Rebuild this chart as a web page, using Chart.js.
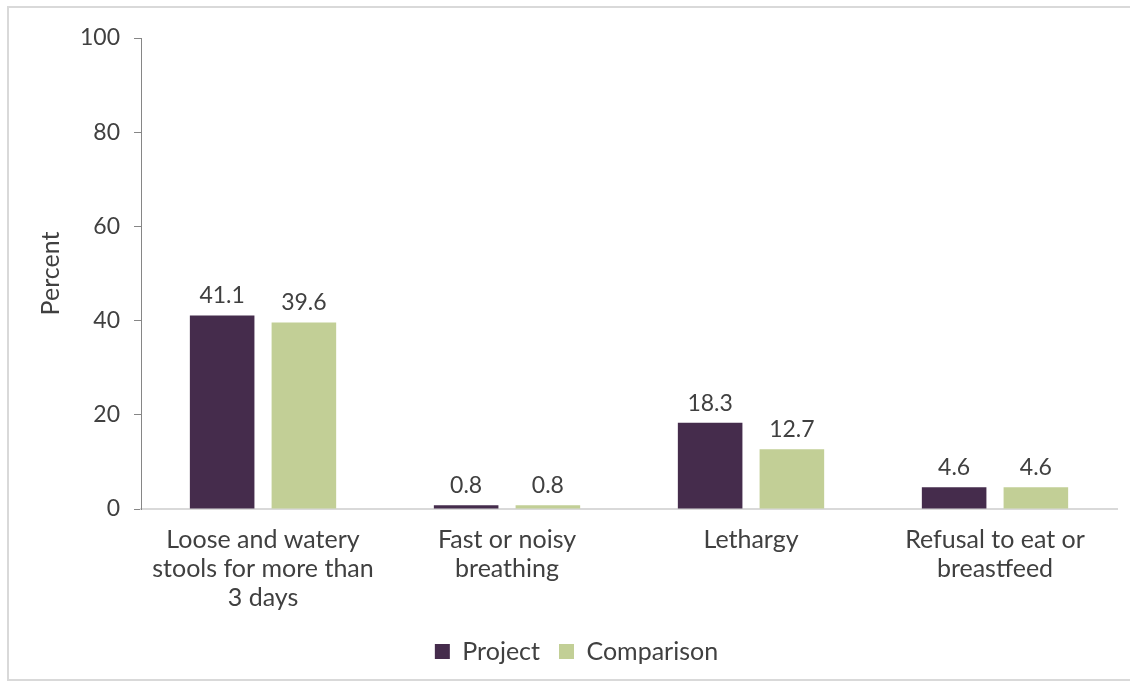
<!DOCTYPE html>
<html>
<head>
<meta charset="utf-8">
<script src="https://cdn.jsdelivr.net/npm/chart.js@4"></script>
<style>
  body { margin: 0; background: #fff; }
  #box { position: absolute; left: 7px; top: 6px; width: 1130px; height: 675px; border: 2px solid #d9d9d9; box-sizing: border-box; }
  #wrap { position: absolute; left: 0; top: 0; width: 1130px; height: 683px; }
</style>
</head>
<body>
<div id="box"></div>
<div id="wrap"><canvas id="myChart"></canvas></div>
<script>
const ctx = document.querySelector("#myChart");
const categorias = [
    ['Loose and watery', 'stools for more than', '3 days'],
    ['Fast or noisy', 'breathing'],
    'Lethargy',
    ['Refusal to eat or', 'breastfeed']
];
const proyecto = [41.1, 0.8, 18.3, 4.6];
const comparacion = [39.6, 0.8, 12.7, 4.6];
const marcasY = [0, 20, 40, 60, 80, 100];

const fuente = "Lato, 'DejaVu Sans', sans-serif";

// etiquetas encima de cada barra
const etiquetas = {
    id: 'etiquetas',
    afterDatasetsDraw(chart) {
        const c = chart.ctx;
        c.save();
        c.font = '23px ' + fuente;
        c.fillStyle = '#404040';
        c.textAlign = 'center';
        c.textBaseline = 'bottom';
        chart.data.datasets.forEach((ds, i) => {
            chart.getDatasetMeta(i).data.forEach((bar, j) => {
                c.fillText(ds.data[j].toFixed(1), bar.x, bar.y - 8);
            });
        });
        c.restore();
    }
};

const myChart = new Chart(ctx, {
    type: 'bar',
    data: {
        labels: categorias,
        datasets: [{
            label: 'Project',
            data: proyecto,
            backgroundColor: '#452C4C',
            borderWidth: 0,
            categoryPercentage: 0.67,
            barPercentage: 0.79
        }, {
            label: 'Comparison',
            data: comparacion,
            backgroundColor: '#C2CF96',
            borderWidth: 0,
            categoryPercentage: 0.67,
            barPercentage: 0.79
        }]
    },
    options: {
        responsive: true,
        maintainAspectRatio: false,
        animation: false,
        layout: { padding: { left: 36, right: 13, top: 38, bottom: 9 } },
        plugins: {
            legend: {
                position: 'bottom',
                labels: {
                    font: { family: fuente, size: 25 },
                    color: '#404040',
                    boxWidth: 15,
                    boxHeight: 15,
                    padding: 19
                }
            },
            tooltip: { enabled: false }
        },
        scales: {
            x: {
                grid: { display: false },
                border: { color: '#d9d9d9', width: 2 },
                ticks: {
                    font: { family: fuente, size: 25, lineHeight: 1.16 },
                    color: '#404040',
                    maxRotation: 0,
                    padding: 8
                }
            },
            y: {
                min: 0,
                max: 100,
                afterBuildTicks(axis) {
                    axis.ticks = marcasY.map(v => ({ value: v }));
                },
                grid: { drawOnChartArea: false, color: '#868686', tickLength: 7 },
                border: { color: '#868686', width: 1 },
                ticks: {
                    font: { family: fuente, size: 23 },
                    color: '#404040',
                    padding: 14
                },
                title: {
                    display: true,
                    text: 'Percent',
                    font: { family: fuente, size: 25 },
                    color: '#404040',
                    padding: { top: 0, bottom: 0 }
                }
            }
        }
    },
    plugins: [etiquetas]
});
</script>
</body>
</html>
